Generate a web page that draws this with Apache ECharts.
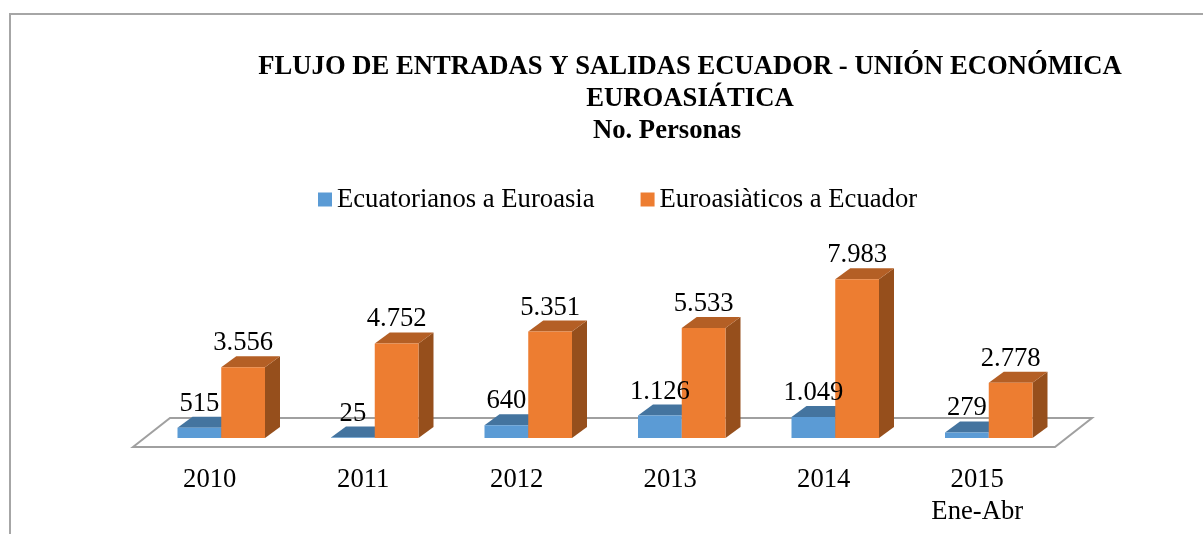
<!DOCTYPE html>
<html><head><meta charset="utf-8">
<style>html,body{margin:0;padding:0;background:#fff}#c{width:1203px;height:534px}</style>
<script src="https://cdn.jsdelivr.net/npm/echarts@6/dist/echarts.min.js"></script>
</head><body><div id="c"></div>
<script>
const categories = ['2010','2011','2012','2013','2014','2015\nEne-Abr'];
const ecuatorianos = [515,25,640,1126,1049,279];
const euroasiaticos = [3556,4752,5351,5533,7983,2778];
const FONT = '"Liberation Serif","Times New Roman",serif';
const FS = 26.67;
const DX = 15, DY = 11;
const fmt = v => String(v).replace(/\B(?=(\d{3})+$)/g,'.');
function barGeom(api, side){
  const p = api.coord([api.value(0), api.value(1)]);
  const b = api.coord([api.value(0), 0]);
  const w = api.size([1,0])[0] * 0.285;
  const x0 = side < 0 ? p[0]-w : p[0];
  return {x0, x1:x0+w, top:p[1], base:b[1]};
}
function render3D(front, top, right, side){
  return function(params, api){
    const g = barGeom(api, side);
    return {type:'group', children:[
      {type:'polygon', shape:{points:[[g.x1,g.top],[g.x1+DX,g.top-DY],[g.x1+DX,g.base-DY],[g.x1,g.base]]}, style:{fill:right}},
      {type:'polygon', shape:{points:[[g.x0,g.top],[g.x0+DX,g.top-DY],[g.x1+DX,g.top-DY],[g.x1,g.top]]}, style:{fill:top}},
      {type:'rect', shape:{x:g.x0,y:g.top,width:g.x1-g.x0,height:g.base-g.top}, style:{fill:front}}
    ]};
  };
}
function renderLabel(side){
  return function(params, api){
    const g = barGeom(api, side);
    return {type:'text', style:{text:fmt(api.value(1)), x:(g.x0+g.x1)/2, y:g.top-24,
      align:'center', verticalAlign:'middle', font:FS+'px '+FONT, fill:'#000'}};
  };
}
function renderFloor(params, api){
  const c = params.coordSys, base = api.coord([0,0])[1];
  return {type:'polygon', shape:{points:[[c.x-11.5,base+9],[c.x+25.5,base-20],[c.x+c.width+26.5,base-20],[c.x+c.width-10.5,base+9]]},
    style:{fill:'#fff', stroke:'#a0a0a0', lineWidth:2}};
}
const pairs = a => a.map((v,i)=>[i,v]);
const chart = echarts.init(document.getElementById('c'), null, {renderer:'canvas'});
chart.setOption({
  animation:false,
  backgroundColor:'#fff',
  title:[
    {text:'FLUJO DE ENTRADAS Y SALIDAS ECUADOR - UNIÓN ECONÓMICA\nEUROASIÁTICA', left:685, top:46, textAlign:'center',
     textStyle:{fontFamily:FONT,fontWeight:'bold',fontSize:FS,lineHeight:32,color:'#000'}},
    {text:'No. Personas', left:662, top:110, textAlign:'center',
     textStyle:{fontFamily:FONT,fontWeight:'bold',fontSize:FS,lineHeight:32,color:'#000'}}
  ],
  legend:{data:['Ecuatorianos a Euroasia','Euroasiàticos a Ecuador'], left:313, top:181, itemWidth:14, itemHeight:14, itemGap:46,
    icon:'rect', textStyle:{fontFamily:FONT,fontSize:FS,color:'#000',padding:[4,0,0,0]}},
  grid:{left:144.5, width:921, top:239, height:199},
  xAxis:{type:'category', data:categories, axisLine:{show:false}, axisTick:{show:false},
    axisLabel:{fontFamily:FONT,fontSize:FS,color:'#000',margin:26,lineHeight:32,padding:[0,23,0,0]}},
  yAxis:{type:'value', min:0, max:10000, show:false, splitLine:{show:false}},
  graphic:[{type:'polyline', silent:true, shape:{points:[[10,540],[10,14],[1210,14]]}, style:{fill:'none',stroke:'#a6a6a6',lineWidth:2}}],
  series:[
    {type:'custom', name:'suelo', data:[[0,0]], renderItem:renderFloor, silent:true, z:1},
    {type:'custom', name:'Ecuatorianos a Euroasia', data:pairs(ecuatorianos), renderItem:render3D('#5b9bd5','#44749f','#365f82',-1), itemStyle:{color:'#5b9bd5'}, z:2},
    {type:'custom', name:'Euroasiàticos a Ecuador', data:pairs(euroasiaticos), renderItem:render3D('#ed7d31','#b45f25','#964f1c',1), itemStyle:{color:'#ed7d31'}, z:3},
    {type:'custom', name:'et1', data:pairs(ecuatorianos), renderItem:renderLabel(-1), silent:true, z:4},
    {type:'custom', name:'et2', data:pairs(euroasiaticos), renderItem:renderLabel(1), silent:true, z:4}
  ]
});
</script></body></html>
